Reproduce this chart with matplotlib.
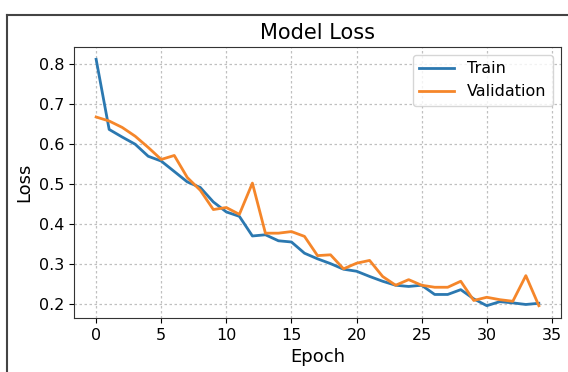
import matplotlib
matplotlib.use("Agg")
import matplotlib.pyplot as plt
from matplotlib.lines import Line2D

epochs = list(range(35))

train_loss = [0.812, 0.637, 0.618, 0.600, 0.570, 0.558, 0.532, 0.506, 0.492, 0.456,
              0.431, 0.420, 0.371, 0.374, 0.359, 0.356, 0.328, 0.314, 0.302, 0.288,
              0.283, 0.270, 0.258, 0.248, 0.245, 0.248, 0.225, 0.225, 0.237, 0.214,
              0.197, 0.207, 0.204, 0.200, 0.203]

val_loss = [0.668, 0.658, 0.642, 0.620, 0.592, 0.562, 0.572, 0.517, 0.485, 0.437,
            0.442, 0.425, 0.503, 0.378, 0.378, 0.382, 0.370, 0.322, 0.324, 0.289,
            0.303, 0.310, 0.270, 0.248, 0.262, 0.248, 0.243, 0.243, 0.258, 0.210,
            0.218, 0.212, 0.208, 0.272, 0.197]

fig = plt.figure(figsize=(5.68, 3.72), dpi=100)
ax = fig.add_axes([74 / 568, 1 - 318 / 372, (561 - 74) / 568, (318 - 47) / 372])

ax.plot(epochs, train_loss, color="#2b78b0", linewidth=2, label="Train")
ax.plot(epochs, val_loss, color="#f5862a", linewidth=2, label="Validation")

ax.set_title("Model Loss", fontsize=15)
ax.set_xlabel("Epoch", fontsize=13)
ax.set_ylabel("Loss", fontsize=13)
ax.tick_params(labelsize=11.5)
ax.grid(True, linestyle=(0, (2, 2)), color="#c0c0c0", linewidth=0.9)
ax.legend(loc="upper right", fontsize=11.5, handlelength=2.2)

for spine in ax.spines.values():
    spine.set_color("#333333")

# frame drawn around the screenshot
fig.add_artist(Line2D([7 / 568, 7 / 568], [0, 1 - 15 / 372], transform=fig.transFigure,
                      color="#444444", linewidth=1.5))
fig.add_artist(Line2D([7 / 568, 1], [1 - 15 / 372, 1 - 15 / 372], transform=fig.transFigure,
                      color="#444444", linewidth=1.5))

fig.savefig("out.png", dpi=100)
